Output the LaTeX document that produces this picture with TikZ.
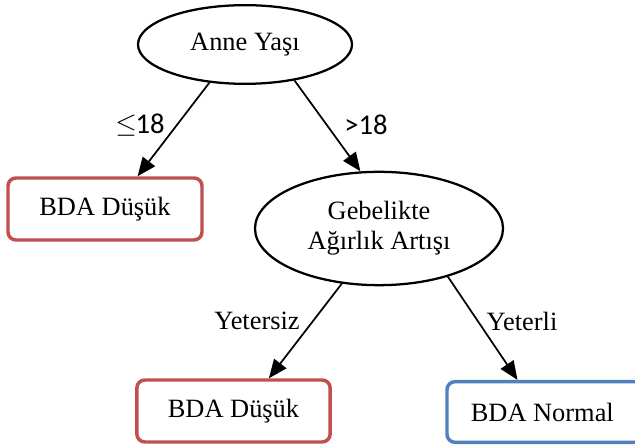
\documentclass[tikz,border=0pt]{standalone}
\usepackage{fontspec}
\setmainfont{Liberation Serif}
\newfontfamily\calib{Carlito}
\usetikzlibrary{shapes.geometric,arrows.meta,calc}
\definecolor{redbox}{HTML}{C0504D}
\definecolor{bluebox}{HTML}{4F81BD}
\begin{document}
\begin{tikzpicture}[x=0.75pt,y=-0.75pt,
  txt/.style={font=\fontsize{19.8}{22.5}\selectfont},
  oval/.style={ellipse,draw=black,line width=1.7pt,inner sep=0pt,txt,align=center},
  leaf/.style={draw=#1,line width=2.6pt,rounded corners=6pt,inner sep=0pt,txt,fill=white},
  arr/.style={line width=1.3pt,-{Triangle[length=14pt,width=11.5pt]}},
  lbl/.style={txt,inner sep=0pt},
  clbl/.style={font=\calib\fontsize{21.5}{24}\selectfont,inner sep=0pt}]
\useasboundingbox (0,0) rectangle (635,448);
\node[oval,minimum width=160.5pt,minimum height=59pt] (top) at (245,44.5) {Anne Yaşı};
\node[oval,minimum width=186pt,minimum height=85pt] (e2) at (379,228.5) {Gebelikte\\Ağırlık Artışı};
\node[leaf=redbox,minimum width=145.5pt,minimum height=46.5pt] (lbox) at (105,209) {BDA Düşük};
\node[leaf=redbox,minimum width=145pt,minimum height=46.5pt] (blbox) at (233.5,411) {BDA Düşük};
\node[leaf=bluebox,minimum width=150pt,minimum height=45.5pt] (rbox) at (547,412) {\hspace*{-7pt}BDA Normal};
\draw[arr] (top.227) -- ($(lbox.north west)!0.665!(lbox.north east)$);
\draw[arr] (top.324) -- (e2.108);
\draw[arr] (e2.236) -- ($(blbox.north west)!0.68!(blbox.north east)$);
\draw[arr] (e2.325) -- ($(rbox.north west)!0.355!(rbox.north east)$);
\node[clbl] (l1) at (140,125) {\raisebox{1pt}{\(\leq\)}\kern-1pt 18};
\node[clbl] (l2) at (366,125) {>18};
\node[lbl] (l3) at (257,321) {Yetersiz};
\node[lbl] (l4) at (522,321) {Yeterli};
\end{tikzpicture}
\end{document}
